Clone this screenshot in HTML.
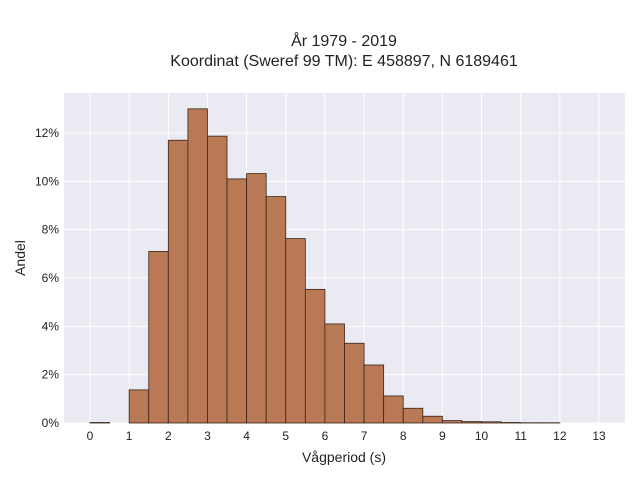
<!DOCTYPE html>
<html><head><meta charset="utf-8"><style>
body{margin:0;background:#fff;font-family:"Liberation Sans",sans-serif;}
svg text{font-family:"Liberation Sans",sans-serif;fill:#222;}
</style></head><body>
<svg id="chart" width="640" height="480" xmlns="http://www.w3.org/2000/svg">
<text x="344" y="46" text-anchor="middle" font-size="16">År 1979 - 2019</text>
<text x="344" y="66" text-anchor="middle" font-size="16">Koordinat (Sweref 99 TM): E 458897, N 6189461</text>
<rect x="64" y="93" width="561" height="330" fill="#eaeaf2"/>
<g id="grid"></g><g id="bars"></g><g id="xt"></g><g id="yt"></g>
<text x="344" y="462" text-anchor="middle" font-size="14">Vågperiod (s)</text>
<text transform="translate(25,258) rotate(-90)" text-anchor="middle" font-size="14">Andel</text>
</svg>
<script>
const binStarts=[0,0.5,1,1.5,2,2.5,3,3.5,4,4.5,5,5.5,6,6.5,7,7.5,8,8.5,9,9.5,10,10.5,11,11.5];
const shares=[0.02,0,1.37,7.1,11.7,13.0,11.87,10.1,10.32,9.37,7.63,5.53,4.1,3.3,2.4,1.12,0.61,0.28,0.1,0.06,0.05,0.02,0.01,0.01];
const binWidth=0.5;
const xTicks=[0,1,2,3,4,5,6,7,8,9,10,11,12,13];
const yTicks=[0,2,4,6,8,10,12];
const X=v=>90+v*(599-90)/13, Y=v=>423-v*(423-133)/12;
const NS="http://www.w3.org/2000/svg";
function mk(t,a,p){const e=document.createElementNS(NS,t);for(const k in a)e.setAttribute(k,a[k]);p.appendChild(e);return e;}
const grid=document.getElementById('grid'),bars=document.getElementById('bars'),xt=document.getElementById('xt'),yt=document.getElementById('yt');
xTicks.forEach(t=>{
 const l=mk('line',{x1:X(t),x2:X(t),y1:93,y2:423,stroke:'#fff','stroke-width':1},grid);
 
 
 const s=mk('text',{x:X(t),y:440,'text-anchor':'middle','font-size':12},xt);s.textContent=t;
 
 
});
yTicks.forEach(t=>{
 const l=mk('line',{x1:64,x2:625,y1:Y(t),y2:Y(t),stroke:'#fff','stroke-width':1},grid);
 
 
 const s=mk('text',{x:59,y:Y(t)+4,'text-anchor':'end','font-size':12},yt);s.textContent=t+'%';
 
 
});
binStarts.forEach((b,i)=>{
 const v=shares[i];const y=Y(v);
 const r=mk('rect',{x:X(b),y:y,width:X(b+binWidth)-X(b),height:423-y,fill:'#b97955',stroke:'#3a2418','stroke-width':0.8},bars);
 
 
});
</script>
</body></html>
